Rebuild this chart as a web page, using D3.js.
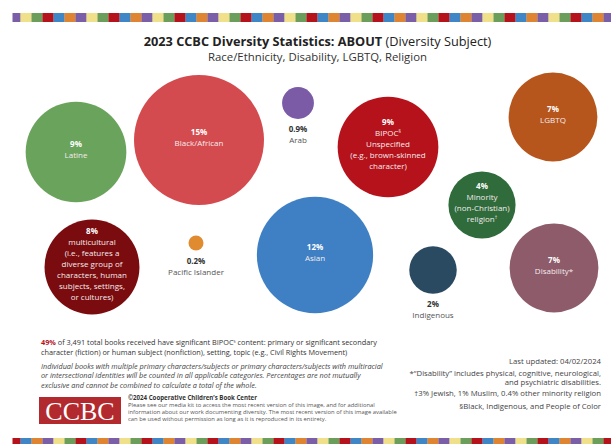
<!DOCTYPE html>
<html>
<head>
<meta charset="utf-8">
<script src="https://cdn.jsdelivr.net/npm/d3@7"></script>
<style>
  body { margin: 0; background: #fff; }
  svg { display: block; font-family: "Open Sans", Lato, sans-serif; }
</style>
</head>
<body>
<div id="chart"></div>
<script>
const categories = [
  "Latine", "Black/African", "Arab", "BIPOC Unspecified", "LGBTQ",
  "multicultural", "Pacific Islander", "Asian", "Minority religion",
  "Indigenous", "Disability",
];
const percents = [9, 15, 0.9, 9, 7, 8, 0.2, 12, 4, 2, 7];
const labelLines = [
  ["Latine"],
  ["Black/African"],
  ["Arab"],
  ["BIPOC§", "Unspecified", "(e.g., brown-skinned", "character)"],
  ["LGBTQ"],
  ["multicultural", "(i.e., features a", "diverse group of", "characters, human", "subjects, settings,", "or cultures)"],
  ["Pacific Islander"],
  ["Asian"],
  ["Minority", "(non-Christian)", "religion†"],
  ["Indigenous"],
  ["Disability*"],
];
const totalBooks = 3491;
const bipocShare = 49;
const lastUpdated = "04/02/2024";
const footnotes = [
  ["*\u201CDisability\u201D includes physical, cognitive, neurological,", "and psychiatric disabilities."],
  ["†3% Jewish, 1% Muslim, 0.4% other minority religion"],
  ["§Black, Indigenous, and People of Color"],
];
const stripeColors = ["#7a5ea8", "#f0e08a", "#6b9e5a", "#b5121b", "#3f86c6", "#df8431"];

// design layout of the bubbles (centre + colour), kept apart from the values
const layout = [
  { x: 76, y: 152, fill: "#6aa35b" },
  { x: 199, y: 140, fill: "#d44b4f" },
  { x: 298, y: 103, fill: "#7b5aa6", outside: true },
  { x: 388, y: 147, fill: "#b5121b" },
  { x: 553, y: 117, fill: "#b6561c" },
  { x: 92, y: 267, fill: "#7a0b0e" },
  { x: 196, y: 243, fill: "#e08b30", outside: true },
  { x: 315, y: 255, fill: "#3f80c4" },
  { x: 482, y: 205, fill: "#2f6b3b" },
  { x: 433, y: 270, fill: "#2a4a62", outside: true },
  { x: 554, y: 268, fill: "#8e5b6a" },
];

const W = 611, H = 446;
const svg = d3.select("#chart").append("svg").attr("width", W).attr("height", H);

// text with raised footnote marks
function richText(sel, str, size) {
  const parts = str.split(/([§†])/);
  let raised = false;
  parts.forEach((p) => {
    if (!p) return;
    if (p === "§" || p === "†") {
      sel.append("tspan").attr("font-size", size * 0.6).attr("dy", raised ? 0 : -size * 0.35).text(p);
      raised = true;
    } else {
      sel.append("tspan").attr("dy", raised ? size * 0.35 : 0).text(p);
      raised = false;
    }
  });
}

// size a text so it spans the width it has in the original
function fitSize(sel, width) {
  const fs = +sel.attr("font-size");
  const s = (fs * width) / sel.node().getComputedTextLength();
  sel.attr("font-size", s);
  return s;
}

// colour stripes top and bottom
const stripeX = d3.range(0, 56).map((i) => 9.5 + i * 11);
svg.append("clipPath").attr("id", "stripeClip")
  .append("rect").attr("x", 12.5).attr("y", 0).attr("width", W).attr("height", H);
[{ y: 13, h: 9, shift: 0 }, { y: 438, h: 6, shift: 3 }].forEach((band) => {
  svg.append("g").attr("clip-path", "url(#stripeClip)")
    .selectAll("rect").data(stripeX).join("rect")
    .attr("x", (d) => d).attr("y", band.y)
    .attr("width", 11.2).attr("height", band.h)
    .attr("fill", (d, i) => stripeColors[(i + band.shift) % stripeColors.length]);
});

// title
const title = svg.append("text").attr("x", 317.5).attr("y", 46)
  .attr("text-anchor", "middle").attr("font-size", 12).attr("fill", "#222");
title.append("tspan").attr("font-weight", 700).text("2023 CCBC Diversity Statistics: ABOUT ");
title.append("tspan").attr("font-weight", 400).text("(Diversity Subject)");
fitSize(title, 348);
const sub = svg.append("text").attr("x", 317.5).attr("y", 61)
  .attr("text-anchor", "middle").attr("font-size", 10).attr("fill", "#333")
  .text("Race/Ethnicity, Disability, LGBTQ, Religion");
fitSize(sub, 219);

// bubbles
const r = d3.scaleSqrt().domain([0, d3.max(percents)]).range([0, 65]);
const fmt = (v) => `${v}%`;

const bubbles = svg.append("g").selectAll("g").data(categories).join("g")
  .attr("transform", (d, i) => `translate(${layout[i].x},${layout[i].y})`);

bubbles.append("circle")
  .attr("r", (d, i) => r(percents[i]))
  .attr("fill", (d, i) => layout[i].fill);

// label size taken from "Black/African"
const probe = svg.append("text").attr("font-size", 8).text(labelLines[1][0]);
const FS = Math.min(8, fitSize(probe, 55));
probe.remove();
const LH = 11;
bubbles.each(function (d, i) {
  const g = d3.select(this);
  const lines = [fmt(percents[i])].concat(labelLines[i]);
  const outside = layout[i].outside;
  const y0 = outside ? r(percents[i]) + 13 : -((lines.length - 1) * LH) / 2;
  lines.forEach((line, k) => {
    const t = g.append("text")
      .attr("y", y0 + k * LH).attr("dy", "0.35em")
      .attr("text-anchor", "middle")
      .attr("font-size", FS)
      .attr("font-weight", k === 0 ? 700 : 400)
      .attr("fill", outside ? (k === 0 ? "#333" : "#555") : (k === 0 ? "#fff" : "#f4ecec"));
    richText(t, line, FS);
  });
});

// bottom-left notes
const note = svg.append("g").attr("fill", "#333");
const l1 = note.append("text").attr("x", 41).attr("y", 345).attr("font-size", 7);
l1.append("tspan").attr("fill", "#b5121b").attr("font-weight", 700).text(fmt(bipocShare));
richText(l1, ` of ${d3.format(",")(totalBooks)} total books received have significant BIPOC§ content: primary or significant secondary`, 7);
const NS = fitSize(l1, 337);
note.append("text").attr("x", 41).attr("y", 355).attr("font-size", NS)
  .text("character (fiction) or human subject (nonfiction), setting, topic (e.g., Civil Rights Movement)");

const italics = [
  "Individual books with multiple primary characters/subjects or primary characters/subjects with multiracial",
  "or intersectional identities will be counted in all applicable categories. Percentages are not mutually",
  "exclusive and cannot be combined to calculate a total of the whole.",
];
note.append("g").attr("font-style", "italic").attr("fill", "#444")
  .selectAll("text").data(italics).join("text")
  .attr("font-size", NS)
  .attr("x", 41).attr("y", (d, i) => 369 + i * 9.3).text((d) => d);

// logo
svg.append("rect").attr("x", 39).attr("y", 397).attr("width", 82).attr("height", 27).attr("fill", "#b22a2e");
svg.append("text").attr("x", 80).attr("y", 419.5).attr("text-anchor", "middle")
  .attr("font-family", "'Liberation Serif', 'DejaVu Serif', serif").attr("font-size", 26)
  .attr("fill", "#fff").text("CCBC");

const copy = [
  "Please see our media kit to access the most recent version of this image, and for additional",
  "information about our work documenting diversity. The most recent version of this image available",
  "can be used without permission as long as it is reproduced in its entirety.",
];
const copyProbe = svg.append("text").attr("font-size", 5.3).text(copy[0]);
const CS = fitSize(copyProbe, 247);
copyProbe.remove();
svg.append("g").attr("fill", "#555")
  .selectAll("text").data(copy).join("text")
  .attr("font-size", CS)
  .attr("x", 128).attr("y", (d, i) => 407 + i * 7.1).text((d) => d);
svg.append("text").attr("x", 128).attr("y", 400).attr("font-size", CS * 1.05)
  .attr("font-weight", 700).attr("fill", "#333").text("©2024 Cooperative Children\u2019s Book Center");

// bottom-right notes
const right = svg.append("g").attr("fill", "#444").attr("text-anchor", "end");
const probe2 = right.append("text").attr("font-size", 7).text(footnotes[2][0]);
const RS = fitSize(probe2, 142);
probe2.remove();
right.append("text").attr("x", 601).attr("y", 364).attr("font-size", RS)
  .text(`Last updated:  ${lastUpdated}`);
const noteY = [376, 396, 409];
footnotes.forEach((lines, i) => {
  lines.forEach((line, k) => {
    right.append("text").attr("x", 601).attr("y", noteY[i] + k * 8.6)
      .attr("font-size", RS).text(line);
  });
});
</script>
</body>
</html>
